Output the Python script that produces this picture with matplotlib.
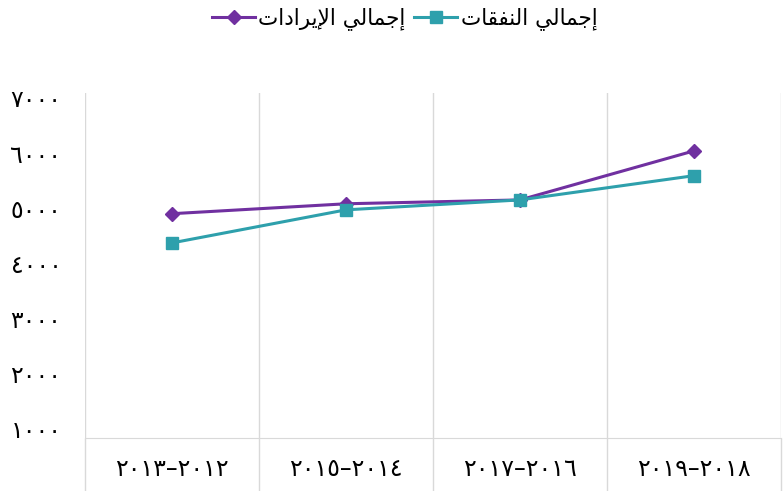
import matplotlib
matplotlib.use('Agg')
import matplotlib.pyplot as plt
import numpy as np

# data
periods = ['2012-2013', '2014-2015', '2016-2017', '2018-2019']
revenue = [4900, 5080, 5150, 6040]
expenses = [4370, 4970, 5150, 5590]
y_ticks = [1000, 2000, 3000, 4000, 5000, 6000, 7000]
label_revenue = 'إجمالي الإيرادات'
label_expenses = 'إجمالي النفقات'

PURPLE = '#7030A0'
TEAL = '#2EA0AC'
GRID = '#d9d9d9'

# minimal arabic shaping (isolated, final, initial, medial)
FORMS = {
    'ا': (0xFE8D, 0xFE8E, None, None),
    'إ': (0xFE87, 0xFE88, None, None),
    'د': (0xFEA9, 0xFEAA, None, None),
    'ر': (0xFEAD, 0xFEAE, None, None),
    'ج': (0xFE9D, 0xFE9E, 0xFE9F, 0xFEA0),
    'م': (0xFEE1, 0xFEE2, 0xFEE3, 0xFEE4),
    'ل': (0xFEDD, 0xFEDE, 0xFEDF, 0xFEE0),
    'ي': (0xFEF1, 0xFEF2, 0xFEF3, 0xFEF4),
    'ت': (0xFE95, 0xFE96, 0xFE97, 0xFE98),
    'ن': (0xFEE5, 0xFEE6, 0xFEE7, 0xFEE8),
    'ف': (0xFED1, 0xFED2, 0xFED3, 0xFED4),
    'ق': (0xFED5, 0xFED6, 0xFED7, 0xFED8),
    'لإ': (0xFEF9, 0xFEFA, None, None),
    'لا': (0xFEFB, 0xFEFC, None, None),
}


def shape(text):
    out = []
    for word in text.split(' '):
        chars = []
        i = 0
        while i < len(word):
            if word[i] == 'ل' and i + 1 < len(word) and word[i + 1] in 'اإ':
                chars.append(word[i:i + 2])
                i += 2
            else:
                chars.append(word[i])
                i += 1
        res = []
        for k, c in enumerate(chars):
            f = FORMS.get(c)
            if f is None:
                res.append(c)
                continue
            prev_joins = k > 0 and chars[k - 1] in FORMS and FORMS[chars[k - 1]][2] is not None
            next_joins = k + 1 < len(chars) and chars[k + 1] in FORMS and f[2] is not None
            if prev_joins and next_joins:
                code = f[3]
            elif prev_joins:
                code = f[1]
            elif next_joins:
                code = f[2]
            else:
                code = f[0]
            res.append(chr(code))
        out.append(''.join(res)[::-1])
    return ' '.join(out[::-1])


def ar_digits(s):
    return str(s).translate(str.maketrans('0123456789', '٠١٢٣٤٥٦٧٨٩'))


fig = plt.figure(figsize=(7.83, 4.91), dpi=100)
ax = fig.add_axes([85 / 783, 53 / 491, 696 / 783, 345 / 491])

x = np.arange(len(periods))
ax.plot(x, revenue, color=PURPLE, lw=2.2, marker='D', ms=7.5, label=shape(label_revenue))
ax.plot(x, expenses, color=TEAL, lw=2.2, marker='s', ms=8, label=shape(label_expenses))

ax.set_xlim(-0.5, len(periods) - 0.5)
ax.set_ylim(830, 7090)

# category labels (rtl: later year on the left)
xt = []
for p in periods:
    a, b = p.split('-')
    xt.append(ar_digits(b) + '–' + ar_digits(a))
ax.set_xticks(x)
ax.set_xticklabels(xt, fontsize=17)
ax.tick_params(axis='x', which='major', length=0, pad=14)
ax.set_xticks(np.arange(-0.5, len(periods)), minor=True)
ax.tick_params(axis='x', which='minor', length=53, color=GRID, width=1)
ax.grid(True, axis='x', which='minor', color=GRID, lw=1)

ax.set_yticks(y_ticks)
ax.set_yticklabels([ar_digits(v) for v in y_ticks], fontsize=17)
ax.tick_params(axis='y', length=0, pad=17)

for s in ['top', 'right', 'left']:
    ax.spines[s].set_visible(False)
ax.spines['bottom'].set_color(GRID)

fig.legend(loc='center', bbox_to_anchor=(0.517, 0.962), ncol=2, frameon=False,
           fontsize=15.5, handlelength=2.0, handletextpad=0.15, columnspacing=0.4)

fig.savefig('out.png', dpi=100)
